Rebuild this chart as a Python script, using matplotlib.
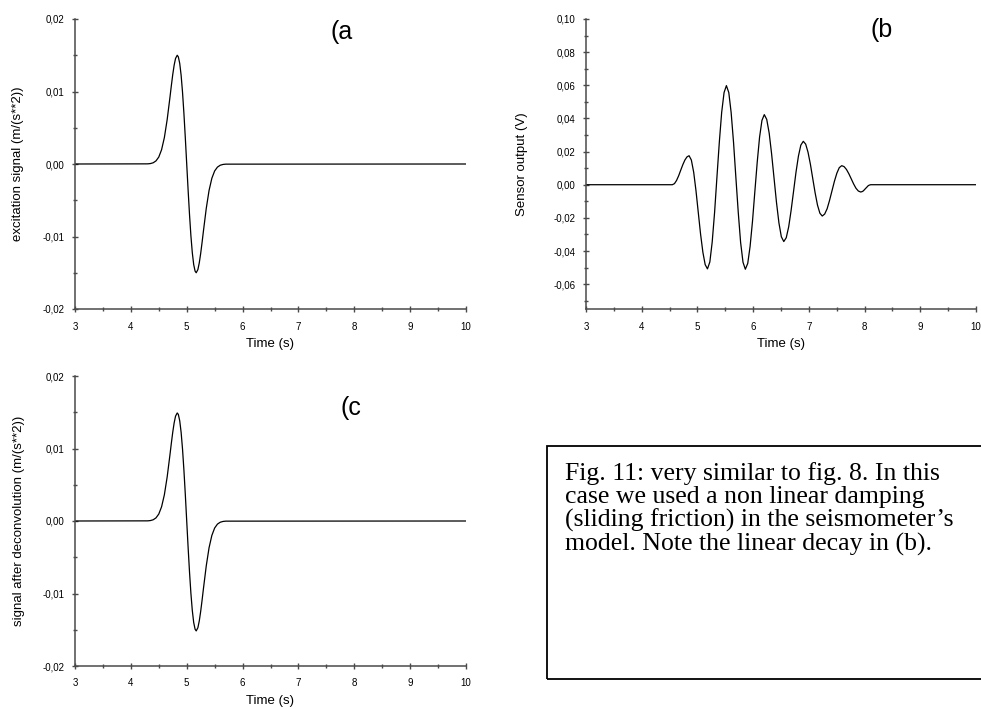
import matplotlib
matplotlib.use("Agg")
import matplotlib.pyplot as plt
from matplotlib.patches import Rectangle
from matplotlib.ticker import FixedLocator, MultipleLocator

plt.rcParams["font.family"] = ["Liberation Sans", "DejaVu Sans"]

# ----- data -----
# (a) excitation and (c) deconvolved signal share the same time grid
time_ac = [3.0, 4.30, 4.35, 4.40, 4.45, 4.50, 4.55, 4.60, 4.65, 4.70, 4.725,
           4.75, 4.775, 4.80, 4.83, 4.85, 4.875, 4.90, 4.925, 4.95, 4.975,
           5.00, 5.025, 5.05, 5.075, 5.10, 5.125, 5.15, 5.17, 5.20, 5.225,
           5.25, 5.275, 5.30, 5.35, 5.40, 5.45, 5.50, 5.55, 5.60, 5.65, 5.70,
           10.0]
excitation = [0.0, 0.00002, 0.00006, 0.00017, 0.00043, 0.00096, 0.00197,
              0.00365, 0.00612, 0.00920, 0.01082, 0.01234, 0.01363, 0.01456,
              0.01500, 0.01478, 0.01387, 0.01223, 0.00990, 0.00696, 0.00360,
              0.0, -0.00360, -0.00696, -0.00990, -0.01223, -0.01387, -0.01478,
              -0.01500, -0.01456, -0.01363, -0.01234, -0.01082, -0.00920,
              -0.00612, -0.00365, -0.00197, -0.00096, -0.00043, -0.00017,
              -0.00006, -0.00002, 0.0]
deconvolved = [0.0, 0.00002, 0.00006, 0.00017, 0.00043, 0.00096, 0.00196,
               0.00362, 0.00607, 0.00913, 0.01074, 0.01225, 0.01353, 0.01446,
               0.01490, 0.01470, 0.01382, 0.01222, 0.00992, 0.00700, 0.00364,
               0.0, -0.00364, -0.00702, -0.00998, -0.01234, -0.01400, -0.01493,
               -0.01516, -0.01472, -0.01378, -0.01247, -0.01093, -0.00929,
               -0.00618, -0.00369, -0.00199, -0.00097, -0.00043, -0.00017,
               -0.00006, -0.00002, 0.0]

# (b) sensor output, oscillation with linear decay
time_b = [3.0, 4.55, 4.588, 4.625, 4.663, 4.70, 4.738, 4.775, 4.813, 4.85,
          4.891, 4.933, 4.974, 5.015, 5.056, 5.098, 5.139, 5.18,
          5.223, 5.265, 5.308, 5.35, 5.393, 5.435, 5.478, 5.52,
          5.563, 5.605, 5.648, 5.69, 5.733, 5.775, 5.818, 5.86,
          5.903, 5.945, 5.988, 6.03, 6.073, 6.115, 6.158, 6.20,
          6.244, 6.288, 6.331, 6.375, 6.419, 6.463, 6.506, 6.55,
          6.594, 6.638, 6.681, 6.725, 6.769, 6.813, 6.856, 6.90,
          6.943, 6.985, 7.028, 7.07, 7.113, 7.155, 7.198, 7.24,
          7.284, 7.328, 7.371, 7.415, 7.459, 7.503, 7.546, 7.59,
          7.633, 7.675, 7.718, 7.76, 7.803, 7.845, 7.888, 7.93,
          7.953, 7.975, 7.998, 8.02, 8.043, 8.065, 8.088, 8.11, 10.0]
sensor = [0.0, 0.0, 0.00066, 0.00256, 0.0054, 0.00875, 0.0121, 0.0149, 0.0168, 0.0175,
          0.0149, 0.0075, -0.0036, -0.0167, -0.0297, -0.0408, -0.0482, -0.0508,
          -0.0466, -0.0346, -0.0167, 0.0045, 0.0257, 0.0436, 0.0556, 0.0598,
          0.0556, 0.0436, 0.0256, 0.0044, -0.0168, -0.0348, -0.0468, -0.0510,
          -0.0475, -0.0373, -0.0222, -0.0044, 0.0135, 0.0286, 0.0388, 0.0423,
          0.0394, 0.0311, 0.0187, 0.0040, -0.0107, -0.0231, -0.0314, -0.0343,
          -0.0320, -0.0254, -0.0156, -0.0041, 0.0075, 0.0173, 0.0239, 0.0262,
          0.0245, 0.0196, 0.0123, 0.0037, -0.0050, -0.0123, -0.0172, -0.0189,
          -0.0177, -0.0145, -0.0095, -0.0037, 0.0021, 0.0070, 0.0103, 0.0115,
          0.0109, 0.0092, 0.0066, 0.0036, 0.0005, -0.0021, -0.0038, -0.0044,
          -0.0042, -0.0038, -0.0030, -0.0022, -0.0014, -0.0006, -0.0002, 0.0, 0.0]

x_ticks = [3, 4, 5, 6, 7, 8, 9, 10]
ac_ticks = [-0.02, -0.01, 0.0, 0.01, 0.02]
ac_labels = ["-0,02", "-0,01", "0,00", "0,01", "0,02"]
b_ticks = [-0.06, -0.04, -0.02, 0.0, 0.02, 0.04, 0.06, 0.08, 0.10]
b_labels = ["-0,06", "-0,04", "-0,02", "0,00", "0,02", "0,04", "0,06", "0,08", "0,10"]

caption_lines = [
    "Fig. 11: very similar to fig. 8. In this",
    "case we used a non linear damping",
    "(sliding friction) in the seismometer\u2019s",
    "model. Note the linear decay in (b).",
]

AXIS_COLOR = "#4a4a4a"
W, H = 981, 709


def px_rect(left, top, right, bottom):
    return [left / W, 1 - bottom / H, (right - left) / W, (bottom - top) / H]


def style_axes(ax, y_ticks, y_labels, y_minor, y_range, y_title, ylab_x):
    for side in ("top", "right"):
        ax.spines[side].set_visible(False)
    for side in ("left", "bottom"):
        ax.spines[side].set_color(AXIS_COLOR)
        ax.spines[side].set_linewidth(1.1)
    ax.set_xlim(3, 10)
    ax.set_ylim(y_range)
    ax.xaxis.set_major_locator(FixedLocator(x_ticks))
    ax.set_xticklabels([str(t) for t in x_ticks])
    ax.xaxis.set_minor_locator(MultipleLocator(0.5))
    ax.yaxis.set_major_locator(FixedLocator(y_ticks))
    ax.set_yticklabels(y_labels)
    ax.yaxis.set_minor_locator(MultipleLocator(y_minor))
    ax.tick_params(which="major", direction="inout", length=5, width=1.0,
                   color=AXIS_COLOR, labelsize=7, pad=5)
    ax.tick_params(axis="x", which="major", pad=6.5)
    ax.tick_params(which="minor", direction="inout", length=3, width=1.0,
                   color=AXIS_COLOR)
    ax.set_xlabel("Time (s)", fontsize=9.5)
    ax.set_ylabel(y_title, fontsize=9.5)
    ax.xaxis.set_label_coords(0.5, -0.101)
    ax.yaxis.set_label_coords(ylab_x, 0.5)
    ax.patch.set_alpha(0)


fig = plt.figure(figsize=(W / 100, H / 100), dpi=100)

ax_a = fig.add_axes(px_rect(75, 19, 466, 309))
ax_a.plot(time_ac, excitation, color="black", linewidth=0.9)
style_axes(ax_a, ac_ticks, ac_labels, 0.005, (-0.02, 0.02),
           "excitation signal (m/(s**2))", -0.131)

ax_b = fig.add_axes(px_rect(586, 19, 976, 309))
ax_b.plot(time_b, sensor, color="black", linewidth=0.9)
style_axes(ax_b, b_ticks, b_labels, 0.01, (-0.075, 0.10),
           "Sensor output (V)", -0.150)

ax_c = fig.add_axes(px_rect(75, 376, 466, 666))
ax_c.plot(time_ac, deconvolved, color="black", linewidth=0.9)
style_axes(ax_c, ac_ticks, ac_labels, 0.005, (-0.02, 0.02),
           "signal after deconvolution (m/(s**2))", -0.128)

# panel letters
fig.text(331 / W, 1 - 39 / H, "(a", fontsize=18, ha="left", va="baseline")
fig.text(870 / W, 1 - 37 / H, "(b", fontsize=18, ha="left", va="baseline")
fig.text(341 / W, 1 - 415 / H, "(c", fontsize=18, ha="left", va="baseline")

# caption box, its right side runs off the page
box = Rectangle((547 / W, 1 - 679 / H), 460 / W, 233 / H,
                transform=fig.transFigure, fill=False,
                edgecolor="black", linewidth=1.3)
fig.patches.append(box)
for i, line in enumerate(caption_lines):
    fig.text(565 / W, 1 - (480 + 23.5 * i) / H, line, fontsize=18.5,
             family=["Liberation Serif", "DejaVu Serif"],
             ha="left", va="baseline")

fig.savefig("out.png", dpi=100)
